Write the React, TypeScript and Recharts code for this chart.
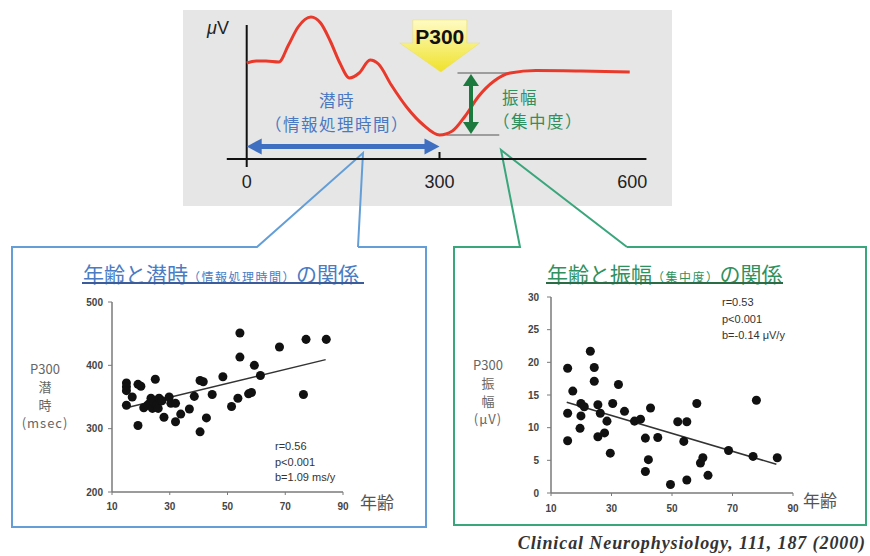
import React from 'react';
import {
  LineChart,
  Line,
  XAxis,
  YAxis,
  ReferenceLine,
  ReferenceDot,
  ScatterChart,
  Scatter,
} from 'recharts';

// P300 waveform: time (ms) vs amplitude (arbitrary µV units)
const waveMs = [0, 15, 30, 50, 65, 80, 100, 115, 130, 145, 160, 175, 192, 205, 225, 250, 275, 300, 320, 340, 360, 385, 410, 450, 520, 596];
const waveUv = [9.6, 9.8, 9.8, 9.7, 11.4, 13.2, 14.2, 13.6, 11.8, 9.6, 8.1, 8.6, 9.9, 9.5, 7.4, 5.1, 3.4, 2.4, 2.8, 4.3, 6.2, 7.8, 8.6, 8.85, 8.8, 8.7];
const waveTicks = [0, 300, 600];

// age vs P300 latency (msec)
const latAge = [15, 15, 15, 15, 17, 19, 20, 19, 21, 22.3, 23, 23.5, 24, 25, 24.5, 25.5, 26, 26.3, 27.3, 28, 29.8, 30.4, 32, 32, 33.8, 36.8, 38.5, 40.5, 41.6, 40.5, 42.7, 44.7, 48.4, 51.4, 53.6, 54.3, 54.3, 57.3, 58.3, 59.3, 61.4, 68, 76.3, 77.2, 84.2];
const latMs = [372, 366, 360, 337, 350, 370, 367, 305, 333, 337, 340, 348, 332, 378, 342, 337, 332, 348, 344, 318, 350, 340, 340, 311, 323, 331, 351, 376, 374, 295, 317, 354, 382, 335, 348, 451, 413, 355, 357, 400, 384, 429, 354, 441, 441];
const latTicks = [200, 300, 400, 500];
const latFit = [[15, 333], [84, 409]];

// age vs P300 amplitude (µV)
const ampAge = [15.5, 15.5, 15.5, 17.2, 19.9, 21, 19.9, 19.6, 23, 24.3, 24.3, 25.5, 26.3, 25.5, 27.7, 28.5, 29.6, 30.4, 32.3, 34.3, 37.6, 39.6, 41.2, 42.9, 42.2, 41.2, 45.3, 49.5, 51.9, 54.9, 53.9, 54.9, 58.2, 59.4, 60.2, 61.9, 68.7, 76.8, 77.9, 84.8];
const ampUv = [19.1, 12.2, 8.0, 15.6, 13.7, 13.2, 11.8, 9.9, 21.7, 19.2, 17.1, 13.5, 12.2, 8.6, 9.2, 11.0, 6.1, 13.7, 16.6, 12.5, 11.0, 11.3, 8.4, 13.0, 5.1, 3.3, 8.5, 1.3, 10.9, 10.9, 7.9, 2.0, 13.7, 4.6, 5.4, 2.7, 6.5, 5.6, 14.2, 5.4];
const ampTicks = [0, 5, 10, 15, 20, 25, 30];
const ampFit = [[15.2, 13.9], [84.5, 4.4]];

const ageTicks = [10, 30, 50, 70, 90];

const waveData = waveMs.map((t, i) => ({ t, v: waveUv[i] }));
const latData = latAge.map((x, i) => ({ x, y: latMs[i] }));
const ampData = ampAge.map((x, i) => ({ x, y: ampUv[i] }));

const JP = '"Noto Sans CJK JP", "Liberation Sans", sans-serif';
const BLUE = '#4a78c2';
const GREEN = '#2f8f5f';

// double headed arrow drawn between the reference line end points
const doubleArrow = (color: string, thick: number, head: number, half: number) => (p: any) => {
  const { x1, y1, x2, y2 } = p;
  const len = Math.hypot(x2 - x1, y2 - y1) || 1;
  const ux = (x2 - x1) / len;
  const uy = (y2 - y1) / len;
  const px = -uy;
  const py = ux;
  const tri = (tx: number, ty: number, dir: number) => {
    const bx = tx - dir * ux * head;
    const by = ty - dir * uy * head;
    return `${tx},${ty} ${bx + px * half},${by + py * half} ${bx - px * half},${by - py * half}`;
  };
  return (
    <g>
      <line
        x1={x1 + ux * head * 0.8}
        y1={y1 + uy * head * 0.8}
        x2={x2 - ux * head * 0.8}
        y2={y2 - uy * head * 0.8}
        stroke={color}
        strokeWidth={thick}
      />
      <polygon points={tri(x2, y2, 1)} fill={color} />
      <polygon points={tri(x1, y1, -1)} fill={color} />
    </g>
  );
};

// yellow block arrow pointing at the P300 dip
const P300Arrow = (p: any) => {
  const { cx, cy } = p;
  const pts = [
    [cx - 28, cy - 52],
    [cx + 26, cy - 52],
    [cx + 26, cy - 29],
    [cx + 39, cy - 29],
    [cx, cy],
    [cx - 41, cy - 29],
    [cx - 28, cy - 29],
  ]
    .map((q) => q.join(','))
    .join(' ');
  return (
    <g>
      <defs>
        <linearGradient id="p300fill" x1="0" y1="0" x2="0" y2="1">
          <stop offset="0%" stopColor="#fffbc4" />
          <stop offset="100%" stopColor="#efe22a" />
        </linearGradient>
      </defs>
      <polygon points={pts} fill="url(#p300fill)" stroke="#e8dc6a" strokeWidth={0.5} />
      <text
        x={cx - 1}
        y={cy - 36}
        textAnchor="middle"
        dominantBaseline="central"
        fontSize={21}
        fontWeight={700}
        fill="#111"
        fontFamily='"Liberation Sans", Arial, sans-serif'
      >
        P300
      </text>
    </g>
  );
};

const tickStyle = { fontSize: 10, fill: '#444', fontWeight: 700 };
const axisStyle = { stroke: '#7a7a7a', strokeWidth: 1.5 };

const abs = (left: number, top: number, extra: React.CSSProperties = {}): React.CSSProperties => ({
  position: 'absolute',
  left,
  top,
  ...extra,
});

export default function App() {
  return (
    <div
      style={{
        position: 'absolute',
        left: 0,
        top: 0,
        width: 870,
        height: 556,
        background: '#fff',
        overflow: 'hidden',
        fontFamily: '"Liberation Sans", Arial, sans-serif',
      }}
    >
      {/* grey panel behind the waveform */}
      <div style={abs(183, 10, { width: 489, height: 196, background: '#e6e6e6' })} />

      {/* callout boxes */}
      <svg width={870} height={556} style={abs(0, 0)}>
        <polyline
          points="358,247 426,247 426,527 12,527 12,247 257,247 363,153 358,247"
          fill="none"
          stroke="#639ed8"
          strokeWidth={2}
          strokeLinejoin="miter"
        />
        <polyline
          points="627,247 866,247 866,525 454,525 454,247 520,247 501,150 627,247"
          fill="none"
          stroke="#3aa67c"
          strokeWidth={2}
          strokeLinejoin="miter"
        />
      </svg>

      {/* waveform */}
      <div style={abs(221, 9)}>
        <LineChart width={437} height={186} data={waveData} margin={{ top: 0, right: 0, bottom: 0, left: 0 }}>
          <XAxis
            type="number"
            dataKey="t"
            domain={[-40, 640]}
            ticks={waveTicks}
            interval={0}
            axisLine={false}
            tickLine={false}
            height={30}
            tickMargin={4}
            tick={{ fontSize: 18, fill: '#222' }}
          />
          <YAxis hide type="number" domain={[-0.6, 15]} />
          <ReferenceLine segment={[{ x: -31, y: 0 }, { x: 622, y: 0 }]} stroke="#111" strokeWidth={2} ifOverflow="visible" />
          <ReferenceLine segment={[{ x: 0, y: -0.8 }, { x: 0, y: 13.4 }]} stroke="#111" strokeWidth={2} ifOverflow="visible" />
          <ReferenceLine segment={[{ x: 300, y: 0 }, { x: 300, y: 0.7 }]} stroke="#111" strokeWidth={2} ifOverflow="visible" />
          <ReferenceLine segment={[{ x: 328, y: 8.6 }, { x: 414, y: 8.6 }]} stroke="#555" strokeWidth={1} ifOverflow="visible" />
          <ReferenceLine segment={[{ x: 311, y: 2.4 }, { x: 393, y: 2.4 }]} stroke="#555" strokeWidth={1} ifOverflow="visible" />
          <Line
            type="monotone"
            dataKey="v"
            stroke="#e8392b"
            strokeWidth={3}
            dot={false}
            activeDot={false}
            isAnimationActive={false}
          />
          <ReferenceLine
            segment={[{ x: 0, y: 1.25 }, { x: 300, y: 1.25 }]}
            ifOverflow="visible"
            shape={doubleArrow('#3f6fc0', 5, 15, 8)}
          />
          <ReferenceLine
            segment={[{ x: 349, y: 2.5 }, { x: 349, y: 8.5 }]}
            ifOverflow="visible"
            shape={doubleArrow('#1d7a3e', 4, 12, 8)}
          />
          <ReferenceDot x={302} y={8.7} ifOverflow="visible" shape={P300Arrow} />
        </LineChart>
      </div>

      <div style={abs(207, 16, { fontSize: 18, color: '#222', lineHeight: '24px' })}>
        <i>μ</i>V
      </div>
      <div
        style={abs(237, 88, {
          width: 200,
          textAlign: 'center',
          fontFamily: JP,
          fontSize: 16.5,
          letterSpacing: 1.5,
          color: BLUE,
          lineHeight: '24px',
        })}
      >
        潜時
        <br />
        （情報処理時間）
      </div>
      <div style={abs(493, 85, { fontFamily: JP, fontSize: 16.5, letterSpacing: 1.5, color: GREEN, lineHeight: '24px' })}>
        <span style={{ marginLeft: 9 }}>振幅</span>
        <br />
        （集中度）
      </div>

      {/* titles */}
      <div style={abs(83, 260, { fontFamily: JP, fontSize: 21, color: '#4a7cc4', lineHeight: '26px', whiteSpace: 'nowrap' })}>
        年齢と潜時
        <span style={{ fontSize: 12, letterSpacing: 1.5 }}>（情報処理時間）</span>
        の関係
      </div>
      <div style={abs(82, 282, { width: 282, height: 2, background: '#3a5c9a' })} />
      <div style={abs(547, 260, { fontFamily: JP, fontSize: 21, color: '#2f9160', lineHeight: '26px', whiteSpace: 'nowrap' })}>
        年齢と振幅
        <span style={{ fontSize: 12, letterSpacing: 1.5 }}>（集中度）</span>
        の関係
      </div>
      <div style={abs(546, 282, { width: 237, height: 2, background: '#2b6b45' })} />

      {/* latency scatter */}
      <div style={abs(60, 290)}>
        <ScatterChart width={300} height={233} margin={{ top: 12, right: 17, bottom: 0, left: 0 }}>
          <XAxis
            type="number"
            dataKey="x"
            domain={[10, 90]}
            ticks={ageTicks}
            interval={0}
            height={31}
            tickSize={3}
            tickMargin={8}
            axisLine={axisStyle}
            tickLine={{ stroke: '#7a7a7a' }}
            tick={tickStyle}
          />
          <YAxis
            type="number"
            dataKey="y"
            domain={[200, 500]}
            ticks={latTicks}
            interval={0}
            width={52}
            tickSize={4}
            tickMargin={5}
            axisLine={axisStyle}
            tickLine={{ stroke: '#7a7a7a' }}
            tick={tickStyle}
          />
          <ReferenceLine
            segment={[{ x: latFit[0][0], y: latFit[0][1] }, { x: latFit[1][0], y: latFit[1][1] }]}
            stroke="#333"
            strokeWidth={1.5}
          />
          <Scatter data={latData} fill="#111" isAnimationActive={false} />
        </ScatterChart>
      </div>

      {/* amplitude scatter */}
      <div style={abs(499, 285)}>
        <ScatterChart width={310} height={239} margin={{ top: 12, right: 16, bottom: 0, left: 0 }}>
          <XAxis
            type="number"
            dataKey="x"
            domain={[10, 90]}
            ticks={ageTicks}
            interval={0}
            height={31}
            tickSize={3}
            tickMargin={9}
            axisLine={axisStyle}
            tickLine={{ stroke: '#7a7a7a' }}
            tick={tickStyle}
          />
          <YAxis
            type="number"
            dataKey="y"
            domain={[0, 30]}
            ticks={ampTicks}
            interval={0}
            width={52}
            tickSize={4}
            tickMargin={8}
            axisLine={axisStyle}
            tickLine={{ stroke: '#7a7a7a' }}
            tick={tickStyle}
          />
          <ReferenceLine
            segment={[{ x: ampFit[0][0], y: ampFit[0][1] }, { x: ampFit[1][0], y: ampFit[1][1] }]}
            stroke="#333"
            strokeWidth={1.5}
          />
          <Scatter data={ampData} fill="#111" isAnimationActive={false} />
        </ScatterChart>
      </div>

      {/* axis titles */}
      <div style={abs(15, 360, { width: 60, textAlign: 'center', fontFamily: JP, fontSize: 13, color: '#666', lineHeight: '18px' })}>
        P300
        <br />潜<br />時<br />
        <span style={{ letterSpacing: 1 }}>(msec)</span>
      </div>
      <div style={abs(458, 356, { width: 60, textAlign: 'center', fontFamily: JP, fontSize: 13, color: '#666', lineHeight: '18px' })}>
        P300
        <br />振<br />幅<br />
        <span style={{ letterSpacing: 1 }}>(μV)</span>
      </div>
      <div style={abs(360, 490, { fontFamily: JP, fontSize: 17, color: '#555', lineHeight: '24px' })}>年齢</div>
      <div style={abs(803, 488, { fontFamily: JP, fontSize: 17, color: '#555', lineHeight: '24px' })}>年齢</div>

      {/* statistics */}
      <div style={abs(275, 439, { fontSize: 11, color: '#333', lineHeight: '15.5px' })}>
        r=0.56
        <br />p&lt;0.001
        <br />b=1.09 ms/y
      </div>
      <div style={abs(722, 294, { fontSize: 11, color: '#333', lineHeight: '16.5px' })}>
        r=0.53
        <br />p&lt;0.001
        <br />b=-0.14 μV/y
      </div>

      <div
        style={abs(0, 532, {
          width: 866,
          textAlign: 'right',
          fontFamily: '"Liberation Serif", "Times New Roman", serif',
          fontStyle: 'italic',
          fontWeight: 700,
          fontSize: 18,
          letterSpacing: 0.9,
          color: '#333',
          lineHeight: '22px',
        })}
      >
        Clinical Neurophysiology, 111, 187 (2000)
      </div>
    </div>
  );
}
